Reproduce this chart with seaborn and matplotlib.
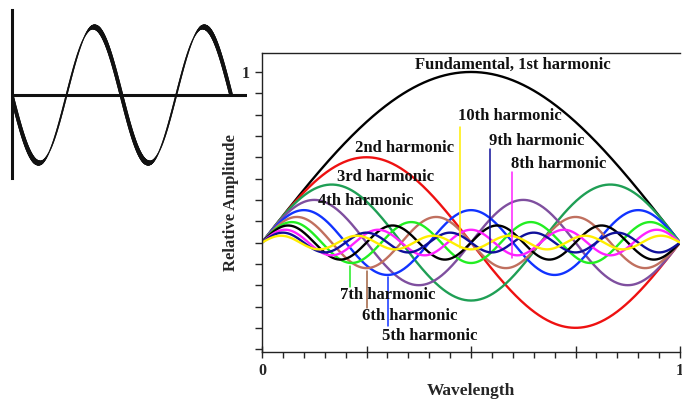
import matplotlib
matplotlib.use('Agg')
import seaborn as sns
import matplotlib.pyplot as plt
import numpy as np
import pandas as pd
from matplotlib.collections import LineCollection

# harmonic curves (peak heights, relative to the fundamental)
harmonics = [1, 2, 3, 4, 5, 6, 7, 8, 9, 10, 11]
amplitudes = [1.0, 0.50, 0.34, 0.25, 0.19, 0.15, 0.12, 0.10, 0.075, 0.058, 0.04]
curve_colors = ['#000000', '#ee1111', '#1f9f55', '#7f4f9f', '#1133ff', '#c0705f',
                '#22ee22', '#000000', '#ff22ff', '#10109a', '#ffee00']

# labels and their pointer lines
label_texts = ['Fundamental, 1st harmonic', '2nd harmonic', '3rd harmonic', '4th harmonic',
               '10th harmonic', '9th harmonic', '8th harmonic',
               '7th harmonic', '6th harmonic', '5th harmonic']
label_x = [0.600, 0.222, 0.180, 0.134, 0.469, 0.543, 0.596, 0.187, 0.239, 0.287]
label_y = [1.041, 0.557, 0.383, 0.244, 0.742, 0.596, 0.459, -0.306, -0.428, -0.547]
pointer_x = [0.474, 0.545, 0.597, 0.210, 0.250, 0.302]
pointer_top = [0.68, 0.547, 0.412, -0.14, -0.164, -0.203]
pointer_bottom = [-0.03, -0.062, -0.092, -0.26, -0.385, -0.488]
pointer_colors = ['#ffee00', '#10109a', '#ff22ff', '#22ee22', '#a0603f', '#1133ff']

# small inset wave: two cycles
inset_cycles = 2

sns.set_style('white')
plt.rcParams['font.family'] = ['Liberation Serif', 'DejaVu Serif']

x = np.linspace(0, 1, 401)
rows = []
for n, a in zip(harmonics, amplitudes):
    rows.append(pd.DataFrame({'x': x, 'y': a * np.sin(n * np.pi * x), 'harmonic': str(n)}))
df = pd.concat(rows, ignore_index=True)

fig = plt.figure(figsize=(6.82, 3.99), dpi=100)
ax = fig.add_axes([262 / 682, 1 - 351.7 / 399, 418 / 682, 299 / 399])

sns.lineplot(data=df, x='x', y='y', hue='harmonic', palette=curve_colors,
             linewidth=1.7, legend=False, ax=ax, sort=False)

ax.set_xlim(0, 1)
ax.set_ylim(-0.64, 1.113)
ax.spines['right'].set_visible(False)
for s in ['left', 'bottom', 'top']:
    ax.spines[s].set_linewidth(1.0)
    ax.spines[s].set_color('#222222')

ax.set_xticks([0, 0.25, 0.5, 0.75, 1.0], labels=['0', '', '', '', '1'])
ax.set_xticks(np.arange(0, 1.001, 0.05), minor=True)
ax.tick_params(axis='x', which='major', direction='inout', length=8, width=1, pad=4,
               labelsize=11.5)
ax.tick_params(axis='x', which='minor', direction='out', length=4, width=1)
yt = np.arange(-0.625, 1.001, 0.125)
ax.set_yticks(yt, labels=['1' if abs(v - 1) < 1e-9 else '' for v in yt])
ax.tick_params(axis='y', which='major', direction='out', length=5, width=1, pad=4,
               labelsize=11.5)
ax.tick_params(bottom=True, left=True, which='both')
for lab in ax.get_xticklabels() + ax.get_yticklabels():
    lab.set_fontweight('bold')

ax.set_xlabel('Wavelength', fontsize=12.5, fontweight='bold', labelpad=3)
ax.set_ylabel('Relative Amplitude', fontsize=12, fontweight='bold', labelpad=2)

for px, t, b, c in zip(pointer_x, pointer_top, pointer_bottom, pointer_colors):
    ax.plot([px, px], [t, b], color=c, lw=1.1, zorder=5)

for i, (txt, tx, ty) in enumerate(zip(label_texts, label_x, label_y)):
    ax.text(tx, ty, txt, ha='center' if i == 0 else 'left', va='center',
            fontsize=12, fontweight='bold', color='#111111', zorder=6)

# inset wave with pen-like stroke width
iax = fig.add_axes([11.7 / 682, 1 - 178 / 399, 235 / 682, 168 / 399])
xl = 235 / 109.7
iax.set_xlim(0, xl)
iax.set_ylim(-1.22, 1.25)
t = np.linspace(0, inset_cycles, 600)
w = -np.sin(2 * np.pi * t)
dxp = np.diff(t) * 109.7
dyp = np.diff(w) * 68
theta = np.arctan2(dyp, dxp)
widths = 0.8 + 3.0 * np.abs(np.sin(theta - np.radians(65)))
pts = np.column_stack([t, w]).reshape(-1, 1, 2)
segs = np.concatenate([pts[:-1], pts[1:]], axis=1)
iax.add_collection(LineCollection(segs, linewidths=widths, colors='#111111',
                                  capstyle='round'))
iax.axhline(0, color='#111111', lw=2.2)
for s in ['top', 'right', 'bottom']:
    iax.spines[s].set_visible(False)
iax.spines['left'].set_linewidth(2.2)
iax.spines['left'].set_color('#111111')
iax.set_xticks([])
iax.set_yticks([])
iax.patch.set_alpha(0)

fig.savefig('out.png', dpi=100)
